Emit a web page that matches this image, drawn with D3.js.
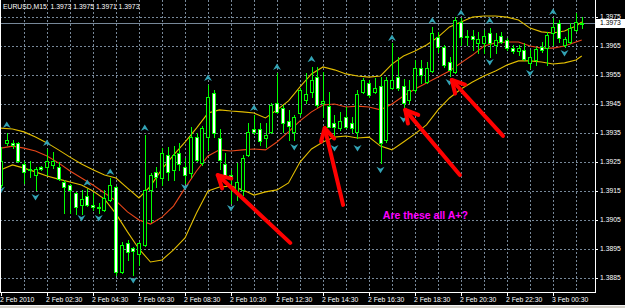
<!DOCTYPE html>
<html>
<head>
<meta charset="utf-8">
<script src="https://cdn.jsdelivr.net/npm/d3@7"></script>
<style>
html, body { margin: 0; padding: 0; background: #000; }
svg { display: block; }
text { font-family: "Liberation Sans", Arial, sans-serif; }
</style>
</head>
<body>
<div id="chart"></div>
<script>
// EURUSD M15, 2 Feb 2010 00:30 -> 3 Feb 01:45 (bar index 0..101)
var barOpen = [1.39170,1.39315,1.39315,1.39315,1.39242,1.39222,1.39204,1.39232,1.39232,1.39239,
  1.39232,1.39180,1.39170,1.39142,1.39101,1.39132,1.39101,1.39090,1.39084,1.39118,
  1.39163,1.38870,1.38970,1.38952,1.38932,1.38963,1.39153,1.39215,1.39194,1.39273,
  1.39222,1.39280,1.39232,1.39211,1.39335,1.39246,1.39335,1.39487,1.39332,1.39242,
  1.39204,1.39149,1.39153,1.39273,1.39363,1.39363,1.39332,1.39353,1.39453,1.39435,
  1.39391,1.39353,1.39418,1.39463,1.39491,1.39542,1.39453,1.39442,1.39384,1.39366,
  1.39404,1.39384,1.39353,1.39491,1.39522,1.39491,1.39511,1.39325,1.39504,1.39542,
  1.39511,1.39463,1.39498,1.39573,1.39525,1.39563,1.39680,1.39646,1.39594,1.39560,
  1.39732,1.39680,1.39684,1.39660,1.39660,1.39694,1.39653,1.39684,1.39670,1.39642,
  1.39632,1.39636,1.39591,1.39601,1.39646,1.39642,1.39694,1.39729,1.39653,1.39663,
  1.39704,1.39730];
var barHigh = [1.39301,1.39349,1.39325,1.39318,1.39253,1.39253,1.39232,1.39235,1.39294,1.39284,
  1.39249,1.39187,1.39173,1.39146,1.39153,1.39156,1.39142,1.39108,1.39153,1.39194,
  1.39166,1.38973,1.38980,1.38956,1.38973,1.39342,1.39211,1.39232,1.39297,1.39301,
  1.39304,1.39315,1.39263,1.39370,1.39349,1.39373,1.39515,1.39498,1.39363,1.39280,
  1.39222,1.39246,1.39273,1.39384,1.39411,1.39384,1.39384,1.39453,1.39556,1.39446,
  1.39429,1.39411,1.39504,1.39556,1.39577,1.39577,1.39560,1.39491,1.39411,1.39422,
  1.39439,1.39404,1.39498,1.39539,1.39532,1.39539,1.39542,1.39542,1.39660,1.39611,
  1.39535,1.39532,1.39601,1.39601,1.39594,1.39715,1.39698,1.39653,1.39611,1.39749,
  1.39746,1.39705,1.39705,1.39698,1.39705,1.39711,1.39694,1.39698,1.39677,1.39653,
  1.39653,1.39660,1.39636,1.39646,1.39663,1.39698,1.39746,1.39739,1.39680,1.39729,
  1.39763,1.39750];
var barLow = [1.39163,1.39308,1.39297,1.39249,1.39177,1.39197,1.39152,1.39222,1.39204,1.39228,
  1.39187,1.39073,1.39073,1.39070,1.39070,1.39097,1.39084,1.39073,1.39080,1.39115,
  1.38859,1.38866,1.38911,1.38859,1.38894,1.38959,1.39042,1.39163,1.39170,1.39187,
  1.39187,1.39222,1.39177,1.39197,1.39253,1.39239,1.39291,1.39335,1.39225,1.39197,
  1.39108,1.39118,1.39135,1.39270,1.39346,1.39308,1.39301,1.39349,1.39418,1.39353,
  1.39325,1.39325,1.39411,1.39453,1.39473,1.39439,1.39404,1.39370,1.39332,1.39360,
  1.39366,1.39353,1.39332,1.39487,1.39473,1.39487,1.39246,1.39318,1.39501,1.39498,
  1.39435,1.39453,1.39491,1.39522,1.39522,1.39560,1.39629,1.39577,1.39546,1.39556,
  1.39653,1.39653,1.39636,1.39625,1.39625,1.39611,1.39625,1.39660,1.39636,1.39625,
  1.39618,1.39601,1.39573,1.39584,1.39629,1.39584,1.39653,1.39663,1.39646,1.39660,
  1.39701,1.39710];
var barClose = [1.39253,1.39325,1.39308,1.39253,1.39215,1.39225,1.39225,1.39225,1.39253,1.39253,
  1.39190,1.39163,1.39153,1.39094,1.39121,1.39101,1.39094,1.39094,1.39125,1.39170,
  1.38870,1.38963,1.38939,1.38942,1.38970,1.39153,1.39204,1.39197,1.39280,1.39215,
  1.39273,1.39242,1.39204,1.39335,1.39256,1.39366,1.39473,1.39349,1.39256,1.39204,
  1.39190,1.39180,1.39263,1.39353,1.39353,1.39322,1.39342,1.39446,1.39422,1.39384,
  1.39373,1.39404,1.39498,1.39484,1.39532,1.39446,1.39460,1.39370,1.39370,1.39391,
  1.39370,1.39366,1.39484,1.39532,1.39480,1.39504,1.39315,1.39532,1.39532,1.39504,
  1.39453,1.39498,1.39573,1.39549,1.39573,1.39694,1.39646,1.39584,1.39567,1.39739,
  1.39680,1.39684,1.39673,1.39673,1.39684,1.39660,1.39670,1.39663,1.39642,1.39632,
  1.39642,1.39604,1.39611,1.39639,1.39636,1.39687,1.39715,1.39677,1.39673,1.39711,
  1.39732,1.39730];

// Bollinger bands, read every second bar
var bandBars = [0,2,4,6,8,10,12,14,16,18,20,22,24,26,28,30,32,34,36,38,40,42,44,46,48,50,
  52,54,56,58,60,62,64,66,68,70,72,74,76,78,80,82,84,86,88,90,92,94,96,98,100,101];
var bandUpper = [1.39366,1.39363,1.39353,1.39335,1.39315,1.39291,1.39266,1.39242,1.39222,1.39204,
  1.39194,1.39159,1.39125,1.39166,1.39225,1.39273,1.39318,1.39366,1.39418,1.39429,
  1.39425,1.39422,1.39418,1.39401,1.39429,1.39460,1.39508,1.39553,1.39577,1.39567,
  1.39553,1.39546,1.39542,1.39546,1.39587,1.39615,1.39632,1.39653,1.39680,1.39715,
  1.39732,1.39749,1.39753,1.39753,1.39749,1.39739,1.39711,1.39698,1.39694,1.39701,
  1.39718,1.39732];
var bandMiddle = [1.39297,1.39304,1.39297,1.39287,1.39270,1.39246,1.39218,1.39194,1.39170,1.39142,
  1.39115,1.39077,1.39049,1.39035,1.39059,1.39097,1.39159,1.39218,1.39270,1.39291,
  1.39287,1.39291,1.39294,1.39291,1.39318,1.39353,1.39391,1.39422,1.39446,1.39449,
  1.39439,1.39442,1.39439,1.39429,1.39449,1.39477,1.39501,1.39522,1.39542,1.39563,
  1.39591,1.39618,1.39649,1.39660,1.39663,1.39663,1.39649,1.39642,1.39642,1.39649,
  1.39663,1.39670];
var bandLower = [1.39222,1.39239,1.39228,1.39215,1.39201,1.39190,1.39180,1.39170,1.39149,1.39121,
  1.39070,1.39008,1.38949,1.38904,1.38911,1.38946,1.38987,1.39073,1.39149,1.39163,
  1.39166,1.39153,1.39135,1.39146,1.39153,1.39177,1.39249,1.39294,1.39318,1.39335,
  1.39339,1.39332,1.39335,1.39304,1.39291,1.39318,1.39346,1.39377,1.39429,1.39470,
  1.39501,1.39525,1.39546,1.39563,1.39584,1.39598,1.39598,1.39594,1.39587,1.39591,
  1.39601,1.39615];

// fractals
var fractalUpBars = [1,8,15,19,25,36,44,48,54,68,75,80,85,96];
var fractalUpPrice = [1.39377,1.39315,1.39177,1.39215,1.39366,1.39539,1.39435,1.39577,1.39604,
  1.39677,1.39736,1.39763,1.39736,1.39767];
var fractalDownBars = [0,6,14,17,23,32,40,51,58,62,66,70,78,85,92,98];
var fractalDownPrice = [1.39153,1.39128,1.39056,1.39056,1.38842,1.39163,1.39090,1.39301,1.39297,
  1.39297,1.39222,1.39397,1.39525,1.39594,1.39556,1.39625];

// axis labels
var priceTicks = [1.3885,1.3895,1.3905,1.3915,1.3925,1.3935,1.3945,1.3955,1.3965,1.3975];
var timeTickBars = [0,8,16,24,32,40,48,56,64,72,80,88,96];
var timeTickLabels = ["2 Feb 2010","2 Feb 02:30","2 Feb 04:30","2 Feb 06:30","2 Feb 08:30",
  "2 Feb 10:30","2 Feb 12:30","2 Feb 14:30","2 Feb 16:30","2 Feb 18:30","2 Feb 20:30",
  "2 Feb 22:30","3 Feb 00:30"];
var headerText = "EURUSD,M15  1.3973 1.3975 1.3971 1.3973";
var lastPrice = 1.3973;

// red annotation arrows: [tailBar, tailPrice, tipBar, tipPrice]
var arrows = [
  [50.3, 1.38970, 37.7, 1.39204],
  [59.5, 1.39101, 56.3, 1.39366],
  [79.8, 1.39204, 70.3, 1.39429],
  [87.3, 1.39339, 78.4, 1.39532]
];
var noteText = "Are these all A+?";
var notePos = [66.4, 1.39052];

var width = 625, height = 308;
var plotRight = 595, plotBottom = 292;
var gridColor = "#778899";
var bull = "#00ff00";

var svg = d3.select("#chart").append("svg")
  .attr("width", width)
  .attr("height", height)
  .style("background", "#000");

var x = d3.scaleLinear().domain([0, 101]).range([1, 581.75]);
var y = d3.scaleLinear().domain([1.39808, 1.38773]).range([0, 300]);

function px(v) { return Math.round(v) + 0.5; }

svg.append("defs").append("clipPath")
  .attr("id", "plotclip")
  .append("rect")
  .attr("x", 0).attr("y", 0)
  .attr("width", plotRight).attr("height", plotBottom);

var plot = svg.append("g").attr("clip-path", "url(#plotclip)");

// grid
priceTicks.forEach(function(p) {
  plot.append("line")
    .attr("x1", 0).attr("x2", plotRight)
    .attr("y1", px(y(p))).attr("y2", px(y(p)))
    .style("stroke", gridColor)
    .style("stroke-dasharray", "2,2");
});
for (var k = 4; k <= 100; k += 4) {
  plot.append("line")
    .attr("x1", px(x(k))).attr("x2", px(x(k)))
    .attr("y1", 0).attr("y2", plotBottom)
    .style("stroke", gridColor)
    .style("stroke-dasharray", "2,2");
}

// bid line
plot.append("line")
  .attr("x1", 0).attr("x2", plotRight)
  .attr("y1", px(y(lastPrice))).attr("y2", px(y(lastPrice)))
  .style("stroke", gridColor);

// bands
function bandLine(values, color) {
  var line = d3.line()
    .x(function(d, i) { return x(bandBars[i]); })
    .y(function(d) { return y(d); });
  plot.append("path")
    .datum(values)
    .attr("d", line)
    .style("fill", "none")
    .style("stroke", color)
    .style("stroke-width", 1.1);
}
bandLine(bandUpper, "#e2bd00");
bandLine(bandLower, "#e2bd00");
bandLine(bandMiddle, "#e8461a");

// candles
var candles = plot.append("g");
barOpen.forEach(function(o, i) {
  var c = barClose[i];
  var cx = Math.round(x(i));
  candles.append("line")
    .attr("x1", cx + 0.5).attr("x2", cx + 0.5)
    .attr("y1", Math.round(y(barHigh[i]))).attr("y2", Math.round(y(barLow[i])) + 1)
    .style("stroke", bull);
  var top = Math.round(y(Math.max(o, c)));
  var bot = Math.round(y(Math.min(o, c)));
  candles.append("rect")
    .attr("x", cx - 1.5)
    .attr("y", top + 0.5)
    .attr("width", 3)
    .attr("height", Math.max(bot - top, 1))
    .style("fill", c >= o ? "#000" : "#fff")
    .style("stroke", bull);
});

// fractals
function fractal(bars, prices, up) {
  bars.forEach(function(b, i) {
    var cx = x(b), cy = y(prices[i]), s = up ? 1 : -1;
    plot.append("path")
      .attr("d", "M" + cx + "," + (cy - 3.5 * s) +
        "L" + (cx + 4) + "," + (cy + 3 * s) +
        "L" + cx + "," + (cy + 1 * s) +
        "L" + (cx - 4) + "," + (cy + 3 * s) + "Z")
      .style("fill", "#33a3b5");
  });
}
fractal(fractalUpBars, fractalUpPrice, true);
fractal(fractalDownBars, fractalDownPrice, false);

// red arrows
arrows.forEach(function(a) {
  var x0 = x(a[0]), y0 = y(a[1]), x1 = x(a[2]), y1 = y(a[3]);
  var ang = Math.atan2(y1 - y0, x1 - x0);
  var len = 14, spread = 0.5;
  var g = plot.append("g")
    .style("stroke", "#ff0000")
    .style("stroke-width", 4)
    .style("stroke-linecap", "round")
    .style("fill", "none");
  g.append("line").attr("x1", x0).attr("y1", y0).attr("x2", x1).attr("y2", y1);
  g.append("path")
    .attr("d", "M" + (x1 - len * Math.cos(ang - spread)) + "," + (y1 - len * Math.sin(ang - spread)) +
      "L" + x1 + "," + y1 +
      "L" + (x1 - len * Math.cos(ang + spread)) + "," + (y1 - len * Math.sin(ang + spread)))
    .style("stroke-linejoin", "round");
});

plot.append("text")
  .attr("x", x(notePos[0]))
  .attr("y", y(notePos[1]))
  .style("fill", "#ff00ff")
  .style("font-size", "10.5px")
  .style("font-weight", "bold")
  .text(noteText);

// header
svg.append("text")
  .attr("x", 3).attr("y", 9)
  .style("fill", "#fff")
  .style("font-size", "6.8px")
  .style("white-space", "pre")
  .text(headerText);

// frame
svg.append("line").attr("x1", 0.5).attr("x2", 0.5).attr("y1", 0).attr("y2", plotBottom + 0.5).style("stroke", "#fff");
svg.append("line").attr("x1", plotRight + 0.5).attr("x2", plotRight + 0.5).attr("y1", 0).attr("y2", plotBottom + 0.5).style("stroke", "#fff");
svg.append("line").attr("x1", 0).attr("x2", plotRight + 1).attr("y1", plotBottom + 0.5).attr("y2", plotBottom + 0.5).style("stroke", "#fff");

// price axis
priceTicks.forEach(function(p) {
  svg.append("line")
    .attr("x1", plotRight).attr("x2", plotRight + 3)
    .attr("y1", px(y(p))).attr("y2", px(y(p)))
    .style("stroke", "#fff");
  svg.append("text")
    .attr("x", 600).attr("y", y(p) + 2.5)
    .style("fill", "#fff")
    .style("font-size", "6.8px")
    .text(d3.format(".4f")(p));
});
svg.append("rect")
  .attr("x", 596).attr("y", Math.round(y(lastPrice)) - 4)
  .attr("width", 29).attr("height", 9)
  .style("fill", "#fff");
svg.append("text")
  .attr("x", 600).attr("y", y(lastPrice) + 2.5)
  .style("fill", "#000")
  .style("font-size", "6.8px")
  .text(d3.format(".4f")(lastPrice));

// time axis
timeTickBars.forEach(function(b, i) {
  svg.append("line")
    .attr("x1", px(x(b))).attr("x2", px(x(b)))
    .attr("y1", plotBottom).attr("y2", plotBottom + 4)
    .style("stroke", "#fff");
  svg.append("text")
    .attr("x", x(b) - 1).attr("y", 301.5)
    .style("fill", "#fff")
    .style("font-size", "6.8px")
    .text(timeTickLabels[i]);
});

// window edge
svg.append("rect").attr("x", 0).attr("y", 305).attr("width", width).attr("height", 3).style("fill", "#d4d0c8");
svg.append("line").attr("x1", 0).attr("x2", width).attr("y1", 305.5).attr("y2", 305.5).style("stroke", "#f4f4f4");
</script>
</body>
</html>
